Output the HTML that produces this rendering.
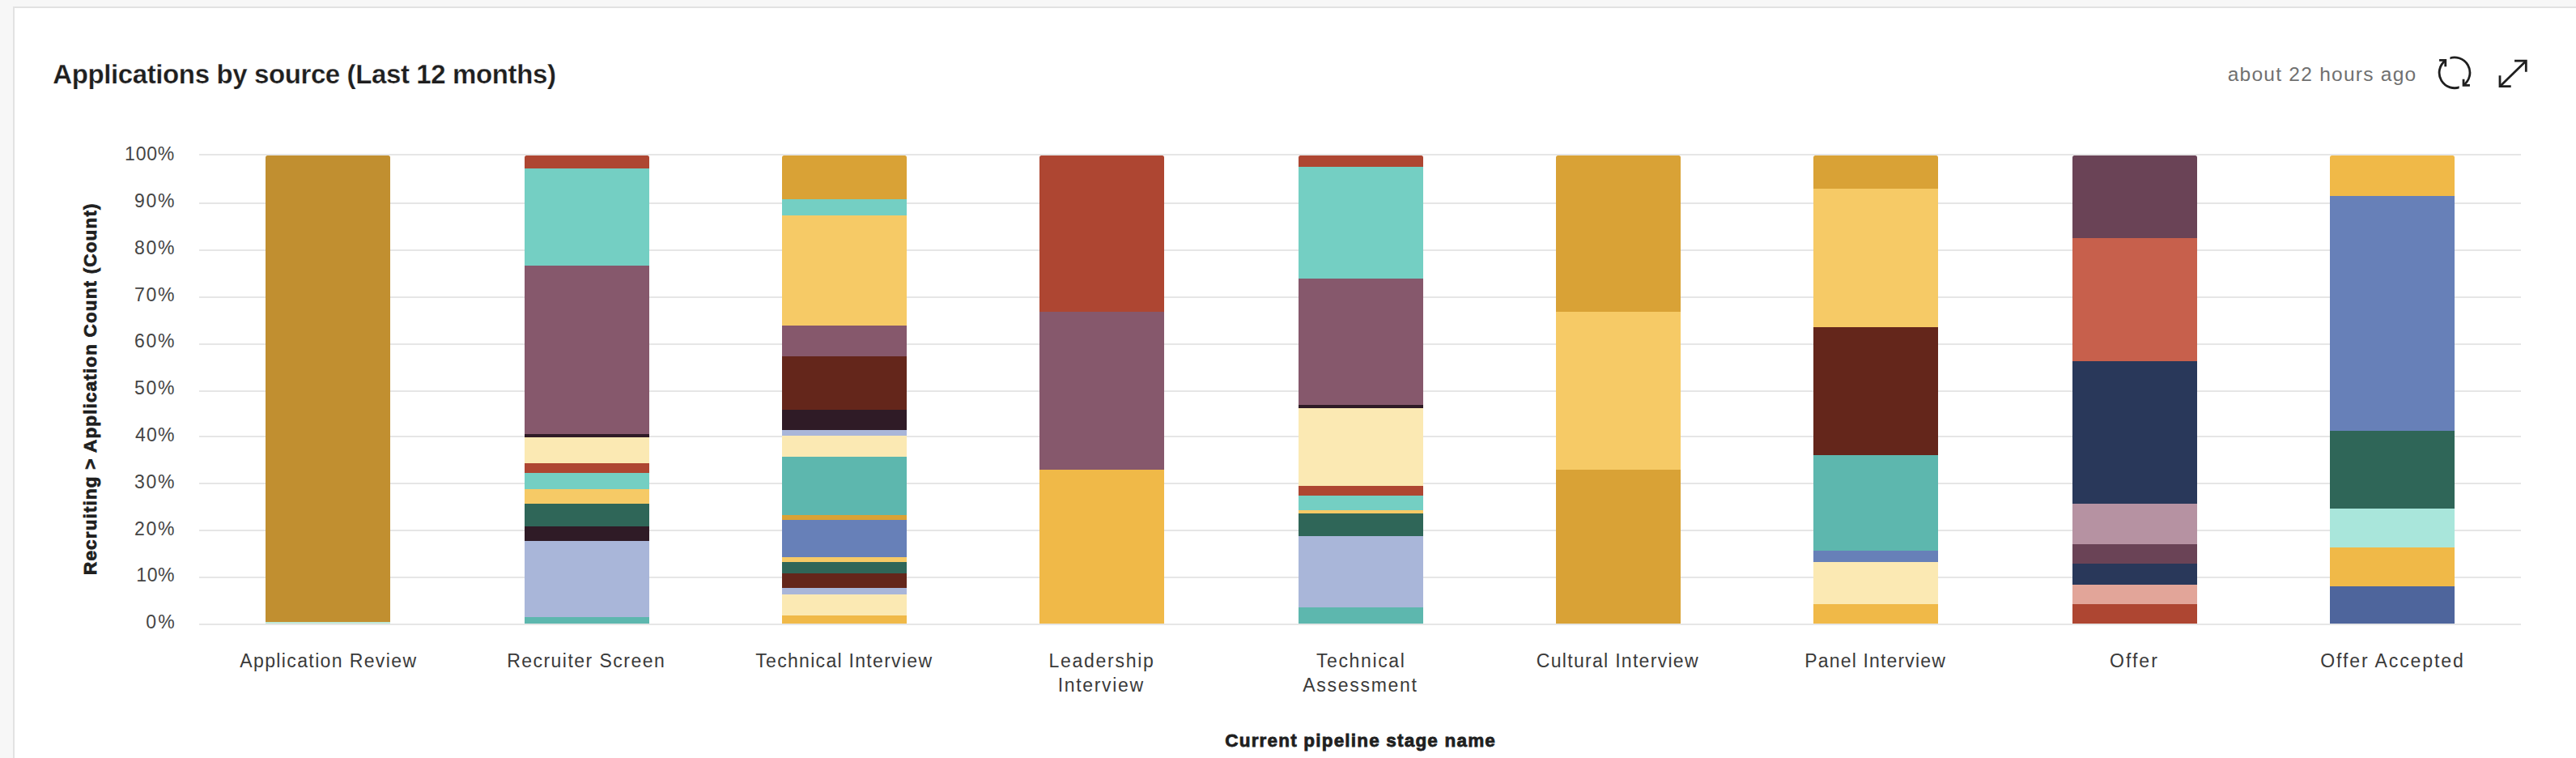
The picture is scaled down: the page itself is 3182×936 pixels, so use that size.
<!DOCTYPE html>
<html lang="en"><head><meta charset="utf-8"><title>Applications by source</title>
<style>
html,body{margin:0;padding:0;}
body{width:3182px;height:936px;overflow:hidden;background:#f7f7f7;font-family:"Liberation Sans",sans-serif;position:relative;}
.card{position:absolute;left:16px;top:8px;width:3300px;height:1100px;background:#fff;border-left:2px solid #e2e2e2;border-top:2px solid #e2e2e2;box-sizing:border-box;}
svg.chart{position:absolute;left:0;top:0;}
</style></head><body>
<div class="card"></div>
<svg class="chart" width="3182" height="936" viewBox="0 0 3182 936" font-family="Liberation Sans, sans-serif">
<rect x="246" y="190" width="2868" height="2" fill="#e6e6e6"/>
<rect x="246" y="250" width="2868" height="2" fill="#e6e6e6"/>
<rect x="246" y="308" width="2868" height="2" fill="#e6e6e6"/>
<rect x="246" y="366" width="2868" height="2" fill="#e6e6e6"/>
<rect x="246" y="424" width="2868" height="2" fill="#e6e6e6"/>
<rect x="246" y="482" width="2868" height="2" fill="#e6e6e6"/>
<rect x="246" y="538" width="2868" height="2" fill="#e6e6e6"/>
<rect x="246" y="596" width="2868" height="2" fill="#e6e6e6"/>
<rect x="246" y="654" width="2868" height="2" fill="#e6e6e6"/>
<rect x="246" y="712" width="2868" height="2" fill="#e6e6e6"/>
<rect x="246" y="770" width="2868" height="2" fill="#e6e6e6"/>
<clipPath id="c0"><rect x="328" y="192" width="154" height="584" rx="2.5" ry="2.5"/></clipPath>
<g clip-path="url(#c0)" shape-rendering="crispEdges">
<rect x="328" y="192" width="154" height="576" fill="#C18F30"/>
<rect x="328" y="768" width="154" height="2" fill="#BFE8D8"/>
</g>
<clipPath id="c1"><rect x="648" y="192" width="154" height="584" rx="2.5" ry="2.5"/></clipPath>
<g clip-path="url(#c1)" shape-rendering="crispEdges">
<rect x="648" y="192" width="154" height="15.7" fill="#AE4632"/>
<rect x="648" y="207.7" width="154" height="120.3" fill="#74CFC3"/>
<rect x="648" y="328" width="154" height="207.8" fill="#86586C"/>
<rect x="648" y="535.8" width="154" height="4.0" fill="#2F1B26"/>
<rect x="648" y="539.8" width="154" height="32.0" fill="#FBE9B3"/>
<rect x="648" y="571.8" width="154" height="11.9" fill="#AE4632"/>
<rect x="648" y="583.7" width="154" height="20.2" fill="#74CFC3"/>
<rect x="648" y="603.9" width="154" height="17.8" fill="#F6CA66"/>
<rect x="648" y="621.7" width="154" height="28.1" fill="#2F6658"/>
<rect x="648" y="649.8" width="154" height="17.8" fill="#2F1B26"/>
<rect x="648" y="667.6" width="154" height="94.2" fill="#A9B6D9"/>
<rect x="648" y="761.8" width="154" height="8.2" fill="#5DB7AE"/>
</g>
<clipPath id="c2"><rect x="966" y="192" width="154" height="584" rx="2.5" ry="2.5"/></clipPath>
<g clip-path="url(#c2)" shape-rendering="crispEdges">
<rect x="966" y="192" width="154" height="53.7" fill="#D9A236"/>
<rect x="966" y="245.7" width="154" height="19.8" fill="#74CFC3"/>
<rect x="966" y="265.5" width="154" height="136.1" fill="#F6CA66"/>
<rect x="966" y="401.6" width="154" height="38.0" fill="#86586C"/>
<rect x="966" y="439.6" width="154" height="66.1" fill="#64261B"/>
<rect x="966" y="505.7" width="154" height="25.7" fill="#2F1B26"/>
<rect x="966" y="531.4" width="154" height="6.4" fill="#A9B6D9"/>
<rect x="966" y="537.8" width="154" height="26.1" fill="#FBE9B3"/>
<rect x="966" y="563.9" width="154" height="72.0" fill="#5DB7AE"/>
<rect x="966" y="635.9" width="154" height="6.0" fill="#D9A236"/>
<rect x="966" y="641.9" width="154" height="46.1" fill="#6780B8"/>
<rect x="966" y="688" width="154" height="5.7" fill="#F6CA66"/>
<rect x="966" y="693.7" width="154" height="14.2" fill="#2F6658"/>
<rect x="966" y="707.9" width="154" height="17.8" fill="#64261B"/>
<rect x="966" y="725.7" width="154" height="8.0" fill="#A9B6D9"/>
<rect x="966" y="733.7" width="154" height="26.1" fill="#FBE9B3"/>
<rect x="966" y="759.8" width="154" height="10.2" fill="#F0B948"/>
</g>
<clipPath id="c3"><rect x="1284" y="192" width="154" height="584" rx="2.5" ry="2.5"/></clipPath>
<g clip-path="url(#c3)" shape-rendering="crispEdges">
<rect x="1284" y="192" width="154" height="193.4" fill="#AE4632"/>
<rect x="1284" y="385.4" width="154" height="194.3" fill="#86586C"/>
<rect x="1284" y="579.7" width="154" height="190.3" fill="#F0B948"/>
</g>
<clipPath id="c4"><rect x="1604" y="192" width="154" height="584" rx="2.5" ry="2.5"/></clipPath>
<g clip-path="url(#c4)" shape-rendering="crispEdges">
<rect x="1604" y="192" width="154" height="13.7" fill="#AE4632"/>
<rect x="1604" y="205.7" width="154" height="138.1" fill="#74CFC3"/>
<rect x="1604" y="343.8" width="154" height="156.0" fill="#86586C"/>
<rect x="1604" y="499.8" width="154" height="3.9" fill="#2F1B26"/>
<rect x="1604" y="503.7" width="154" height="96.2" fill="#FBE9B3"/>
<rect x="1604" y="599.9" width="154" height="11.9" fill="#AE4632"/>
<rect x="1604" y="611.8" width="154" height="18.2" fill="#74CFC3"/>
<rect x="1604" y="630" width="154" height="3.9" fill="#F6CA66"/>
<rect x="1604" y="633.9" width="154" height="27.7" fill="#2F6658"/>
<rect x="1604" y="661.6" width="154" height="87.9" fill="#A9B6D9"/>
<rect x="1604" y="749.5" width="154" height="20.5" fill="#5DB7AE"/>
</g>
<clipPath id="c5"><rect x="1922" y="192" width="154" height="584" rx="2.5" ry="2.5"/></clipPath>
<g clip-path="url(#c5)" shape-rendering="crispEdges">
<rect x="1922" y="192" width="154" height="193.4" fill="#D9A236"/>
<rect x="1922" y="385.4" width="154" height="194.3" fill="#F6CA66"/>
<rect x="1922" y="579.7" width="154" height="190.3" fill="#D9A236"/>
</g>
<clipPath id="c6"><rect x="2240" y="192" width="154" height="584" rx="2.5" ry="2.5"/></clipPath>
<g clip-path="url(#c6)" shape-rendering="crispEdges">
<rect x="2240" y="192" width="154" height="41.4" fill="#D9A236"/>
<rect x="2240" y="233.4" width="154" height="170.2" fill="#F6CA66"/>
<rect x="2240" y="403.6" width="154" height="158.3" fill="#64261B"/>
<rect x="2240" y="561.9" width="154" height="117.9" fill="#5DB7AE"/>
<rect x="2240" y="679.8" width="154" height="13.9" fill="#6780B8"/>
<rect x="2240" y="693.7" width="154" height="51.8" fill="#FBE9B3"/>
<rect x="2240" y="745.5" width="154" height="24.5" fill="#F0B948"/>
</g>
<clipPath id="c7"><rect x="2560" y="192" width="154" height="584" rx="2.5" ry="2.5"/></clipPath>
<g clip-path="url(#c7)" shape-rendering="crispEdges">
<rect x="2560" y="192" width="154" height="102" fill="#6A4356"/>
<rect x="2560" y="294" width="154" height="151.5" fill="#C7604C"/>
<rect x="2560" y="445.5" width="154" height="176.2" fill="#29385A"/>
<rect x="2560" y="621.7" width="154" height="50.2" fill="#B692A2"/>
<rect x="2560" y="671.9" width="154" height="23.8" fill="#6A4356"/>
<rect x="2560" y="695.7" width="154" height="26.1" fill="#29385A"/>
<rect x="2560" y="721.8" width="154" height="23.7" fill="#E2A599"/>
<rect x="2560" y="745.5" width="154" height="24.5" fill="#AE4632"/>
</g>
<clipPath id="c8"><rect x="2878" y="192" width="154" height="584" rx="2.5" ry="2.5"/></clipPath>
<g clip-path="url(#c8)" shape-rendering="crispEdges">
<rect x="2878" y="192" width="154" height="49.7" fill="#F0B948"/>
<rect x="2878" y="241.7" width="154" height="290.1" fill="#6780B8"/>
<rect x="2878" y="531.8" width="154" height="96.2" fill="#2F6658"/>
<rect x="2878" y="628" width="154" height="47.5" fill="#A9E6DB"/>
<rect x="2878" y="675.5" width="154" height="48.3" fill="#F0B948"/>
<rect x="2878" y="723.8" width="154" height="46.2" fill="#4E659C"/>
</g>
<text x="154.1" y="198.2" font-size="23" font-weight="400" letter-spacing="0.8" fill="#454545">100%</text>
<text x="166.0" y="256.0" font-size="23" font-weight="400" letter-spacing="1.75" fill="#454545">90%</text>
<text x="166.0" y="313.8" font-size="23" font-weight="400" letter-spacing="1.75" fill="#454545">80%</text>
<text x="166.0" y="371.6" font-size="23" font-weight="400" letter-spacing="1.75" fill="#454545">70%</text>
<text x="166.0" y="429.4" font-size="23" font-weight="400" letter-spacing="1.75" fill="#454545">60%</text>
<text x="166.0" y="487.2" font-size="23" font-weight="400" letter-spacing="1.75" fill="#454545">50%</text>
<text x="167.0" y="545.0" font-size="23" font-weight="400" letter-spacing="1.25" fill="#454545">40%</text>
<text x="166.0" y="602.8" font-size="23" font-weight="400" letter-spacing="1.75" fill="#454545">30%</text>
<text x="166.0" y="660.6" font-size="23" font-weight="400" letter-spacing="1.75" fill="#454545">20%</text>
<text x="168.2" y="718.4" font-size="23" font-weight="400" letter-spacing="0.65" fill="#454545">10%</text>
<text x="180.2" y="776.2" font-size="23" font-weight="400" letter-spacing="2.3" fill="#454545">0%</text>
<text x="296.3" y="824" font-size="23" font-weight="400" letter-spacing="1.376" fill="#3a3a3a">Application Review</text>
<text x="626.2" y="824" font-size="23" font-weight="400" letter-spacing="1.467" fill="#3a3a3a">Recruiter Screen</text>
<text x="933.3" y="824" font-size="23" font-weight="400" letter-spacing="1.3" fill="#3a3a3a">Technical Interview</text>
<text x="1295.5" y="824" font-size="23" font-weight="400" letter-spacing="1.722" fill="#3a3a3a">Leadership</text>
<text x="1625.9" y="824" font-size="23" font-weight="400" letter-spacing="1.637" fill="#3a3a3a">Technical</text>
<text x="1897.8" y="824" font-size="23" font-weight="400" letter-spacing="1.3" fill="#3a3a3a">Cultural Interview</text>
<text x="2229.3" y="824" font-size="23" font-weight="400" letter-spacing="1.157" fill="#3a3a3a">Panel Interview</text>
<text x="2606.1" y="824" font-size="23" font-weight="400" letter-spacing="2.0" fill="#3a3a3a">Offer</text>
<text x="2866.2" y="824" font-size="23" font-weight="400" letter-spacing="1.915" fill="#3a3a3a">Offer Accepted</text>
<text x="1306.7" y="853.5" font-size="23" font-weight="400" letter-spacing="1.662" fill="#3a3a3a">Interview</text>
<text x="1609.2" y="853.5" font-size="23" font-weight="400" letter-spacing="1.722" fill="#3a3a3a">Assessment</text>
<text x="1513.3" y="922.4" font-size="22.5" font-weight="700" letter-spacing="1.192" fill="#1f1f1f" stroke="#1f1f1f" stroke-width="0.8">Current pipeline stage name</text>
<text x="65.2" y="102.7" font-size="33" font-weight="700" letter-spacing="-0.384" fill="#1f1f1f" stroke="#fff" stroke-width="0.25">Applications by source (Last 12 months)</text>
<text x="2751.7" y="99.8" font-size="24.5" font-weight="400" letter-spacing="1.253" fill="#707070">about 22 hours ago</text>
<text transform="translate(118.5,710.0) rotate(-90)" font-size="22.5" font-weight="700" letter-spacing="1.149" fill="#1f1f1f" stroke="#1f1f1f" stroke-width="0.8">Recruiting &gt; Application Count (Count)</text>
<g fill="none" stroke="#1f1f1f" stroke-width="2.8" stroke-linecap="butt" stroke-linejoin="miter">
<clipPath id="ra"><rect x="3026.4" y="60" width="40" height="60"/></clipPath><clipPath id="rb"><rect x="3000" y="60" width="37.7" height="60"/></clipPath>
<path clip-path="url(#ra)" d="M3024.01 72.67 A18.9 18.9 0 0 1 3042.98 105.19"/>
<path d="M3043.05 97.8 V105.3 H3050.9"/>
<path clip-path="url(#rb)" d="M3039.99 106.93 A18.9 18.9 0 0 1 3020.89 74.51"/>
<path d="M3013.06 74.4 H3020.75 V82.2"/>
<path d="M3088 106.7 L3120.3 75.2"/>
<path d="M3106.05 75.2 H3120.3 V88.65"/>
<path d="M3088 93.2 V106.7 H3101.7"/>
</g>
</svg>
</body></html>
